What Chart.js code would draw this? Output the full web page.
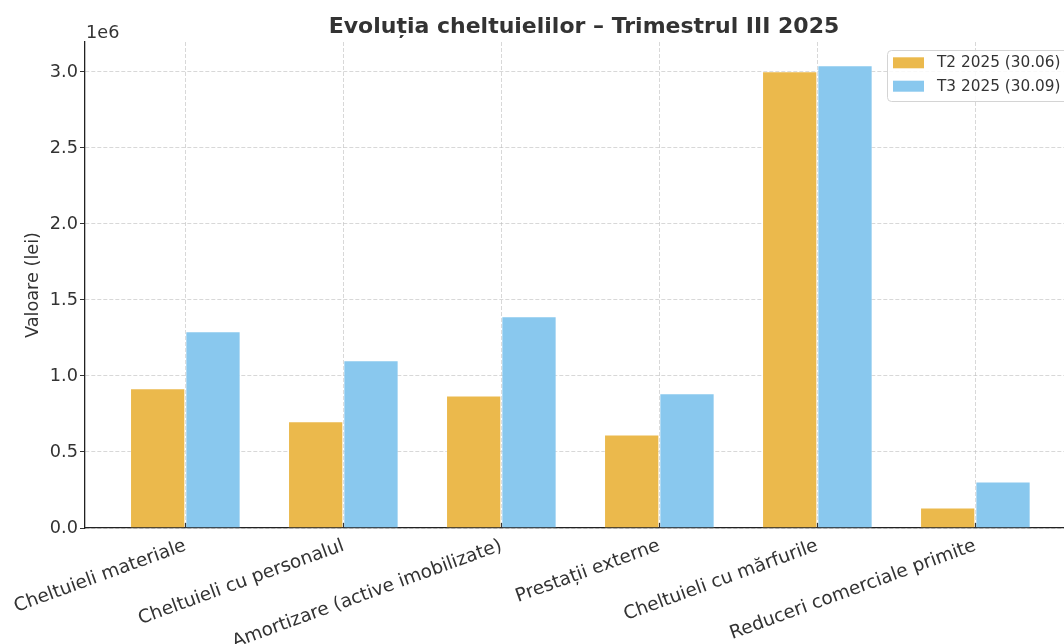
<!DOCTYPE html>
<html lang="ro">
<head>
    <meta charset="UTF-8">
    <title>Evoluția cheltuielilor</title>
    <script src="https://cdn.jsdelivr.net/npm/chart.js@4.4.1/dist/chart.umd.min.js"></script>
    <style>
        html, body { margin: 0; padding: 0; background: #fff; }
        #wrap { width: 1064px; height: 644px; }
    </style>
</head>
<body>
    <div id="wrap"><canvas id="chart" width="1064" height="644"></canvas></div>

    <script>
        // Data
        const categories = [
            'Cheltuieli materiale',
            'Cheltuieli cu personalul',
            'Amortizare (active imobilizate)',
            'Prestații externe',
            'Cheltuieli cu mărfurile',
            'Reduceri comerciale primite'
        ];
        const seriesLabels = ['T2 2025 (30.06)', 'T3 2025 (30.09)'];
        const t2Values = [920000, 703000, 872000, 615000, 3005000, 135000];
        const t3Values = [1295000, 1104000, 1393000, 887000, 3044000, 306000];
        const yTicks = [0, 500000, 1000000, 1500000, 2000000, 2500000, 3000000];

        const FONT = "'DejaVu Sans', sans-serif";
        const TEXT = '#333333';
        const colors = ['#ebb94c', '#89c8ee'];

        // titles, offset text, inward x ticks and boxed legend (matplotlib look)
        const decor = {
            id: 'decor',
            afterDraw(chart) {
                const ctx = chart.ctx;
                const area = chart.chartArea;
                const xs = chart.scales.x;
                ctx.save();

                // short tick marks pointing into the plot
                ctx.strokeStyle = '#333';
                ctx.lineWidth = 1.2;
                categories.forEach((c, i) => {
                    const px = Math.round(xs.getPixelForValue(i)) + 0.5;
                    ctx.beginPath();
                    ctx.moveTo(px, area.bottom);
                    ctx.lineTo(px, area.bottom - 5);
                    ctx.stroke();
                });

                ctx.fillStyle = TEXT;

                // title
                ctx.font = 'bold 22px ' + FONT;
                ctx.textAlign = 'center';
                ctx.textBaseline = 'middle';
                ctx.fillText('Evoluția cheltuielilor – Trimestrul III 2025', 584, 27);

                // offset text
                ctx.font = '17.7px ' + FONT;
                ctx.textAlign = 'left';
                ctx.fillText('1e6', area.left + 1, 33);

                // y axis title
                ctx.save();
                ctx.translate(33, (area.top + area.bottom) / 2);
                ctx.rotate(-Math.PI / 2);
                ctx.textAlign = 'center';
                ctx.fillText('Valoare (lei)', 0, 0);
                ctx.restore();

                // legend
                const bx = 887.5, by = 50.5, bw = 190, bh = 51;
                ctx.beginPath();
                ctx.roundRect(bx, by, bw, bh, 4);
                ctx.fillStyle = 'rgba(255,255,255,0.85)';
                ctx.fill();
                ctx.strokeStyle = '#d4d4d4';
                ctx.lineWidth = 1;
                ctx.stroke();
                ctx.font = '15.3px ' + FONT;
                ctx.textAlign = 'left';
                chart.data.datasets.forEach((ds, i) => {
                    const cy = 62.8 + i * 23.4;
                    ctx.fillStyle = ds.backgroundColor;
                    ctx.fillRect(893, cy - 5.5, 31, 11);
                    ctx.fillStyle = TEXT;
                    ctx.fillText(ds.label, 937, cy + 0.5);
                });
                ctx.restore();
            }
        };

        const ctx = document.getElementById('chart').getContext('2d');
        new Chart(ctx, {
            type: 'bar',
            data: {
                datasets: [
                    {
                        label: seriesLabels[0],
                        data: t2Values.map((v, i) => ({ x: i, y: v })),
                        backgroundColor: colors[0],
                        borderColor: 'rgba(255,255,255,0.25)',
                        borderWidth: 1,
                        categoryPercentage: 0.7,
                        barPercentage: 1.0
                    },
                    {
                        label: seriesLabels[1],
                        data: t3Values.map((v, i) => ({ x: i, y: v })),
                        backgroundColor: colors[1],
                        borderColor: 'rgba(255,255,255,0.25)',
                        borderWidth: 1,
                        categoryPercentage: 0.7,
                        barPercentage: 1.0
                    }
                ]
            },
            options: {
                responsive: false,
                animation: false,
                layout: { padding: { top: 42, left: 0, right: 0, bottom: 0 } },
                plugins: {
                    legend: { display: false },
                    title: { display: false },
                    tooltip: { enabled: false }
                },
                scales: {
                    x: {
                        type: 'linear',
                        offset: false,
                        min: -0.635,
                        max: 5.561,
                        z: 1,
                        afterBuildTicks: axis => {
                            axis.ticks = categories.map((c, i) => ({ value: i }));
                        },
                        afterFit: scale => { scale.height = 116; },
                        ticks: {
                            autoSkip: false,
                            minRotation: 20,
                            maxRotation: 20,
                            padding: 2,
                            color: TEXT,
                            font: { family: FONT, size: 18.5 },
                            callback: v => categories[v]
                        },
                        grid: {
                            offset: false,
                            color: 'rgba(190,190,190,0.6)',
                            lineWidth: 1,
                            tickLength: 5,
                            tickColor: 'rgba(0,0,0,0)',
                            tickBorderDash: []
                        },
                        border: { color: '#222', width: 1.3, dash: [4, 2] }
                    },
                    y: {
                        min: 0,
                        max: 3197000,
                        z: 1,
                        afterBuildTicks: axis => {
                            axis.ticks = yTicks.map(v => ({ value: v }));
                        },
                        afterFit: scale => { scale.width = 85; },
                        ticks: {
                            padding: 2,
                            color: TEXT,
                            font: { family: FONT, size: 17.7 },
                            callback: v => (v / 1e6).toFixed(1)
                        },
                        grid: {
                            color: 'rgba(190,190,190,0.6)',
                            lineWidth: 1,
                            tickLength: 5,
                            tickColor: '#333',
                            tickBorderDash: []
                        },
                        border: { color: '#222', width: 1.3, dash: [4, 2] }
                    }
                }
            },
            plugins: [decor]
        });
    </script>
</body>
</html>
